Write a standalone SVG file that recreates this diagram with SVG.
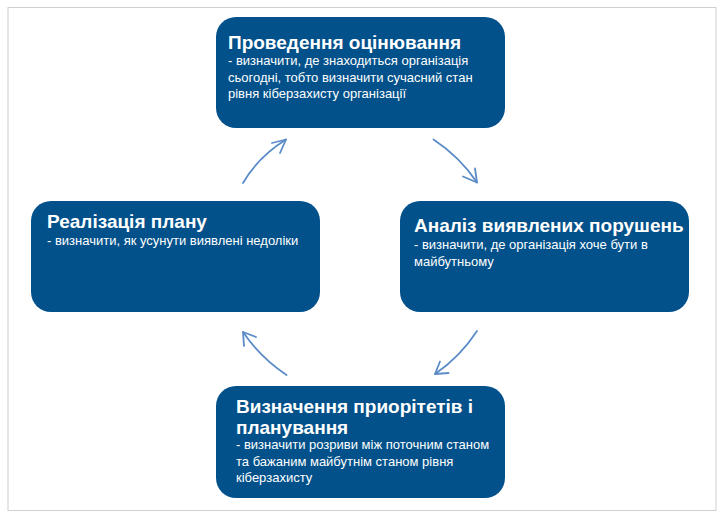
<svg xmlns="http://www.w3.org/2000/svg" width="725" height="520" viewBox="0 0 725 520">
<style>
.box{fill:#02518a;}
.t{font-family:"Liberation Sans",Arial,sans-serif;font-weight:bold;font-size:19px;fill:#ffffff;}
.b{font-family:"Liberation Sans",Arial,sans-serif;font-size:13px;fill:#ffffff;}
.c{fill:none;stroke:#5b8cc8;stroke-width:1.8;stroke-linecap:round;stroke-linejoin:round;}
</style>
<rect x="0" y="0" width="725" height="520" fill="#ffffff"/>
<rect x="8" y="7.5" width="708" height="503" fill="none" stroke="#d0d0d0" stroke-width="1"/>
<g id="node-assessment">
<rect class="box" x="216" y="17" width="289" height="111" rx="20"/>
<text class="t" x="228" y="49">Проведення оцінювання</text>
<text class="b" x="228" y="65">- визначити, де знаходиться організація</text>
<text class="b" x="228" y="81.5">сьогодні, тобто визначити сучасний стан</text>
<text class="b" x="228" y="98">рівня кіберзахисту організації</text>
</g>
<g id="node-analysis">
<rect class="box" x="400" y="201" width="289" height="111" rx="20"/>
<text class="t" x="414" y="232">Аналіз виявлених порушень</text>
<text class="b" x="414" y="249">- визначити, де організація хоче бути в</text>
<text class="b" x="414" y="266">майбутньому</text>
</g>
<g id="node-priorities">
<rect class="box" x="216" y="386" width="289" height="112" rx="20"/>
<text class="t" x="236" y="413">Визначення приорітетів і</text>
<text class="t" x="236" y="434">планування</text>
<text class="b" x="236" y="449">- визначити розриви між поточним станом</text>
<text class="b" x="236" y="466">та бажаним майбутнім станом рівня</text>
<text class="b" x="236" y="482">кіберзахисту</text>
</g>
<g id="node-implementation">
<rect class="box" x="31" y="201" width="289" height="111" rx="20"/>
<text class="t" x="47" y="228">Реалізація плану</text>
<text class="b" x="47" y="245">- визначити, як усунути виявлені недоліки</text>
</g>
<g id="connectors">
<path class="c" d="M243,183 Q258,157 286,139.5"/>
<path class="c" d="M272,143 L286,139.5 L280,153"/>
<path class="c" d="M433.5,139.5 Q460,157 477,182.5"/>
<path class="c" d="M463,176.5 L477,182.5 L475,168.5"/>
<path class="c" d="M477,331 Q460,357 435,374"/>
<path class="c" d="M448.5,373 L435,374 L440,361.5"/>
<path class="c" d="M286.5,375 Q260,357 243,332"/>
<path class="c" d="M256,337 L243,332 L244,346"/>
</g>
</svg>
